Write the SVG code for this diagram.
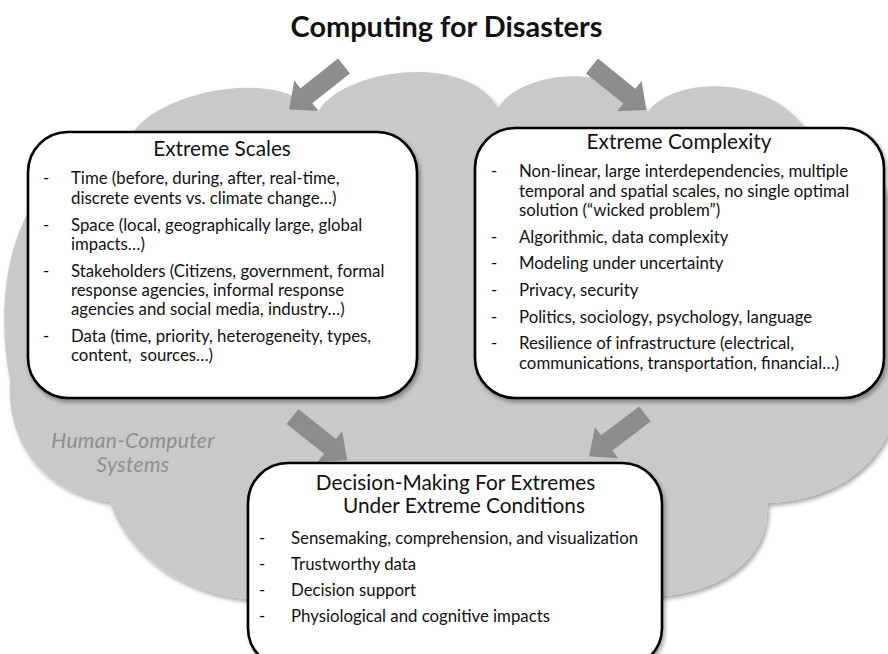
<svg xmlns="http://www.w3.org/2000/svg" width="888" height="654" viewBox="0 0 888 654">
  <defs>
    <filter id="softShadow" x="-10%" y="-10%" width="130%" height="130%">
      <feGaussianBlur in="SourceAlpha" stdDeviation="2"/>
      <feOffset dx="1.5" dy="2.5" result="off"/>
      <feComponentTransfer><feFuncA type="linear" slope="0.35"/></feComponentTransfer>
      <feMerge><feMergeNode/><feMergeNode in="SourceGraphic"/></feMerge>
    </filter>
    <polygon id="blockArrow" points="0,-9.5 48,-9.5 48,-19.5 70,0 48,19.5 48,9.5 0,9.5"/>
  </defs>
  <style>
    .cloud { fill: #c9c9c9; }
    .box { fill: #ffffff; stroke: #000000; stroke-width: 2.6; }
    .arrow { fill: #8d8d8d; }
    text { font-family: Lato, "Open Sans", sans-serif; fill: #111111; }
    .title { font-size: 28.9px; font-weight: bold; text-anchor: middle; }
    .head { font-size: 20.8px; text-anchor: middle; }
    .body { font-size: 16.8px; }
    .hcs { font-size: 21px; letter-spacing: 0.35px; font-style: italic; fill: #8e8e8e; text-anchor: middle; }
  </style>

  <rect width="888" height="654" fill="#ffffff"/>

  <!-- title -->
  <text class="title" x="446.5" y="37">Computing for Disasters</text>

  <!-- background cloud: Human-Computer Systems -->
  <g id="cloud">
    <path class="cloud" filter="url(#softShadow)" d="M 110,502
      C 40,490 6,440 10,380
      C 0,330 2,270 22,225
      C 40,180 90,150 135,130
      C 160,95 270,65 318,112
      C 340,70 465,50 498,108
      C 520,70 620,60 648,112
      C 670,78 770,70 810,135
      C 870,150 905,200 900,260
      L 900,390
      C 895,450 850,500 767,503
      C 770,560 720,595 650,597
      L 260,600
      C 180,597 125,550 110,502 Z"/>
    <text class="hcs" x="133" y="447.5">Human-Computer</text>
    <text class="hcs" x="133" y="471.5">Systems</text>
  </g>

  <!-- connectors -->
  <g id="connectors" class="arrow">
    <use href="#blockArrow" transform="translate(344,66) rotate(141.6)"/>
    <use href="#blockArrow" transform="translate(592,66) rotate(39)"/>
    <use href="#blockArrow" transform="translate(292.5,416.5) rotate(38.6)"/>
    <use href="#blockArrow" transform="translate(645,414) rotate(143)"/>
  </g>

  <!-- Extreme Scales -->
  <g id="extreme-scales">
    <rect class="box" filter="url(#softShadow)" x="28" y="132" width="389" height="266" rx="40" ry="40"/>
    <text class="head" x="222" y="156">Extreme Scales</text>
    <g class="body">
      <text x="43" y="184.3">-</text>
      <text x="71" y="184.3">Time (before, during, after, real-time,</text>
      <text x="71" y="203.8">discrete events vs. climate change…)</text>
      <text x="43" y="230.7">-</text>
      <text x="71" y="230.7">Space (local, geographically large, global</text>
      <text x="71" y="250">impacts…)</text>
      <text x="43" y="276.7">-</text>
      <text x="71" y="276.7">Stakeholders (Citizens, government, formal</text>
      <text x="71" y="296">response agencies, informal response</text>
      <text x="71" y="315.3">agencies and social media, industry…)</text>
      <text x="43" y="341.7">-</text>
      <text x="71" y="341.7">Data (time, priority, heterogeneity, types,</text>
      <text x="71" y="361" xml:space="preserve">content,  sources…)</text>
    </g>
  </g>

  <!-- Extreme Complexity -->
  <g id="extreme-complexity">
    <rect class="box" filter="url(#softShadow)" x="475" y="128" width="409" height="270" rx="40" ry="40"/>
    <text class="head" x="679" y="149.3">Extreme Complexity</text>
    <g class="body">
      <text x="491" y="177.3">-</text>
      <text x="519" y="177.3">Non-linear, large interdependencies, multiple</text>
      <text x="519" y="196.7">temporal and spatial scales, no single optimal</text>
      <text x="519" y="216">solution (“wicked problem”)</text>
      <text x="491" y="242.7">-</text>
      <text x="519" y="242.7">Algorithmic, data complexity</text>
      <text x="491" y="269.3">-</text>
      <text x="519" y="269.3">Modeling under uncertainty</text>
      <text x="491" y="296">-</text>
      <text x="519" y="296">Privacy, security</text>
      <text x="491" y="322.7">-</text>
      <text x="519" y="322.7">Politics, sociology, psychology, language</text>
      <text x="491" y="349.3">-</text>
      <text x="519" y="349.3">Resilience of infrastructure (electrical,</text>
      <text x="519" y="368.7">communications, transportation, financial…)</text>
    </g>
  </g>

  <!-- Decision-Making -->
  <g id="decision-making">
    <rect class="box" filter="url(#softShadow)" x="248" y="463" width="414" height="205" rx="40" ry="40"/>
    <text class="head" x="455.5" y="490">Decision-Making For Extremes</text>
    <text class="head" x="464" y="512.7">Under Extreme Conditions</text>
    <g class="body">
      <text x="259" y="544">-</text>
      <text x="291" y="544">Sensemaking, comprehension, and visualization</text>
      <text x="259" y="570">-</text>
      <text x="291" y="570">Trustworthy data</text>
      <text x="259" y="596">-</text>
      <text x="291" y="596">Decision support</text>
      <text x="259" y="622">-</text>
      <text x="291" y="622">Physiological and cognitive impacts</text>
    </g>
  </g>
</svg>
